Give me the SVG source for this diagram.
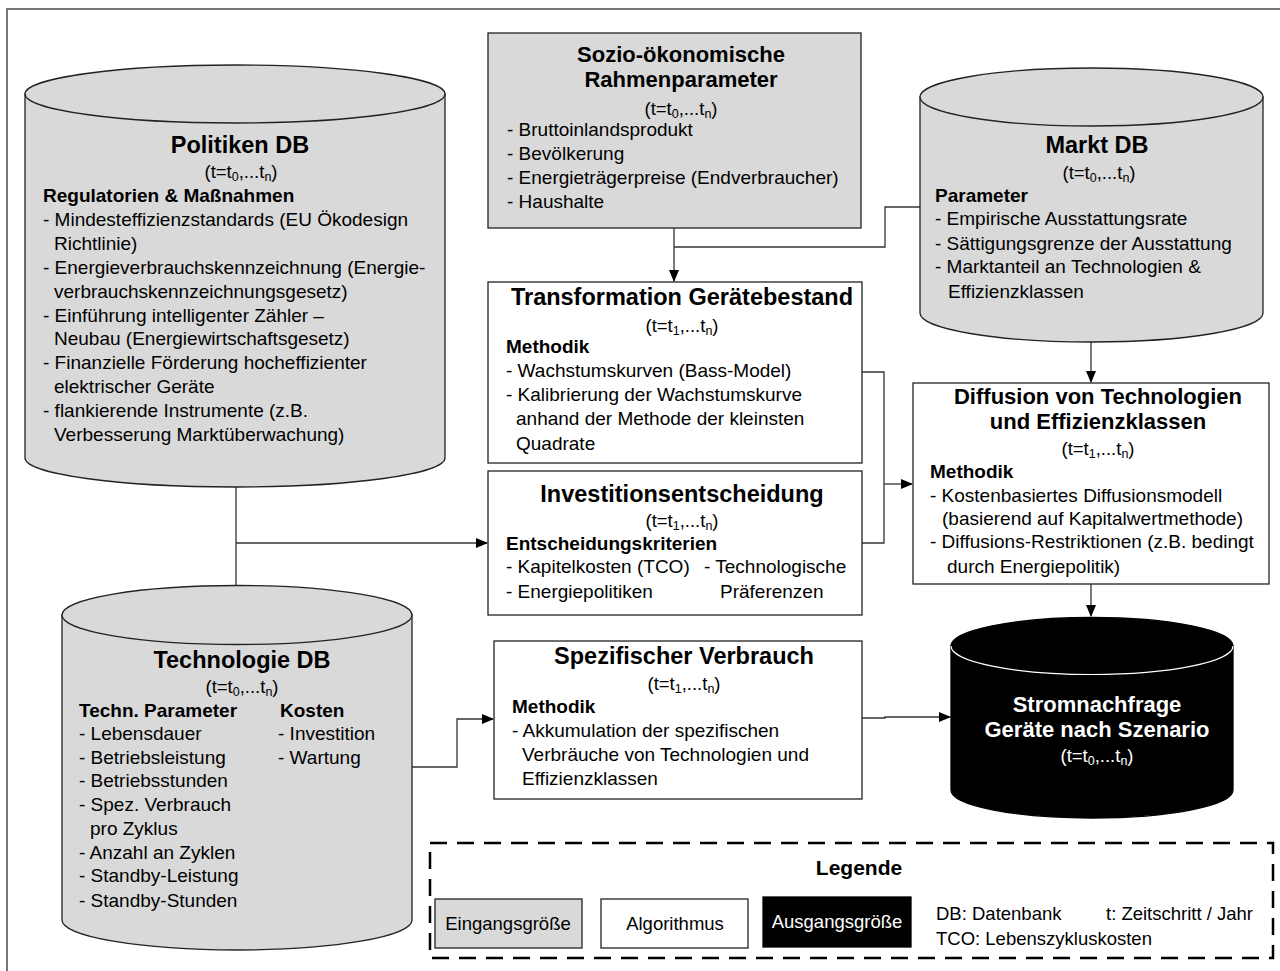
<svg xmlns="http://www.w3.org/2000/svg" width="1280" height="971" viewBox="0 0 1280 971">
<defs>
<style>
text{font-family:"Liberation Sans",Arial,sans-serif;fill:#000}
.ti{font-size:23.5px;font-weight:bold;text-anchor:middle}
.t2{font-size:22px}
.b{font-size:19px}
.sb{font-size:19px;font-weight:bold}
.tm{font-size:18.5px;text-anchor:middle}
.sub{font-size:12.5px}
.lg{font-size:18.5px}
.c{text-anchor:middle}
.w{fill:#fff}
.in{fill:#d9d9d9;stroke:#222;stroke-width:1.3}
.al{fill:#fff;stroke:#222;stroke-width:1.3}
.out{fill:#000;stroke:#000;stroke-width:1.3}
.con{fill:none;stroke:#333;stroke-width:1.3}
</style>
<marker id="ah" markerWidth="12" markerHeight="10" refX="11" refY="5" orient="auto" markerUnits="userSpaceOnUse">
<path d="M0,0 L12,5 L0,10 Z" fill="#000"/>
</marker>
</defs>
<rect width="1280" height="971" fill="#fff"/>
<path d="M7,971 V9 H1280" fill="none" stroke="#777" stroke-width="2"/>

<g id="connectors">
<path class="con" d="M674,228 V281" marker-end="url(#ah)"/>
<path class="con" d="M920,207 H885 V247 H674"/>
<path class="con" d="M1091,342 V382" marker-end="url(#ah)"/>
<path class="con" d="M862,372 H884 V543 H862"/>
<path class="con" d="M884,484 H912" marker-end="url(#ah)"/>
<path class="con" d="M1091,584 V616" marker-end="url(#ah)"/>
<path class="con" d="M236,487 V586"/>
<path class="con" d="M236,543 H487" marker-end="url(#ah)"/>
<path class="con" d="M412,767 H457 V719 H493" marker-end="url(#ah)"/>
<path class="con" d="M862,718 H885 V717 H950" marker-end="url(#ah)"/>
</g>

<g id="politiken-db">
<path class="in" d="M25,94 V458 A210,29 0 0 0 445,458 V94 Z"/>
<ellipse class="in" cx="235" cy="94" rx="210" ry="29"/>
<text class="ti" x="240" y="153">Politiken DB</text>
<text class="tm" x="241" y="178">(t=t<tspan class="sub" dy="3">0</tspan><tspan dy="-3">,...t</tspan><tspan class="sub" dy="3">n</tspan><tspan dy="-3">)</tspan></text>
<text class="sb" x="43" y="202">Regulatorien &amp; Maßnahmen</text>
<text class="b" x="43" y="226">- Mindesteffizienzstandards (EU Ökodesign</text>
<text class="b" x="54" y="250">Richtlinie)</text>
<text class="b" x="43" y="274">- Energieverbrauchskennzeichnung (Energie-</text>
<text class="b" x="54" y="298">verbrauchskennzeichnungsgesetz)</text>
<text class="b" x="43" y="322">- Einführung intelligenter Zähler –</text>
<text class="b" x="54" y="345">Neubau (Energiewirtschaftsgesetz)</text>
<text class="b" x="43" y="369">- Finanzielle Förderung hocheffizienter</text>
<text class="b" x="54" y="393">elektrischer Geräte</text>
<text class="b" x="43" y="417">- flankierende Instrumente (z.B.</text>
<text class="b" x="54" y="441">Verbesserung Marktüberwachung)</text>
</g>

<g id="sozio">
<rect class="in" x="488" y="33" width="373" height="195"/>
<text class="ti t2" x="681" y="62">Sozio-ökonomische</text>
<text class="ti t2" x="681" y="87">Rahmenparameter</text>
<text class="tm" x="681" y="115">(t=t<tspan class="sub" dy="3">0</tspan><tspan dy="-3">,...t</tspan><tspan class="sub" dy="3">n</tspan><tspan dy="-3">)</tspan></text>
<text class="b" x="507" y="136">- Bruttoinlandsprodukt</text>
<text class="b" x="507" y="160">- Bevölkerung</text>
<text class="b" x="507" y="184">- Energieträgerpreise (Endverbraucher)</text>
<text class="b" x="507" y="208">- Haushalte</text>
</g>

<g id="markt-db">
<path class="in" d="M920,97 V313 A171.5,29 0 0 0 1263,313 V97 Z"/>
<ellipse class="in" cx="1091.5" cy="97" rx="171.5" ry="29"/>
<text class="ti" x="1097" y="153">Markt DB</text>
<text class="tm" x="1099" y="179">(t=t<tspan class="sub" dy="3">0</tspan><tspan dy="-3">,...t</tspan><tspan class="sub" dy="3">n</tspan><tspan dy="-3">)</tspan></text>
<text class="sb" x="935" y="202">Parameter</text>
<text class="b" x="935" y="225">- Empirische Ausstattungsrate</text>
<text class="b" x="935" y="250">- Sättigungsgrenze der Ausstattung</text>
<text class="b" x="935" y="273">- Marktanteil an Technologien &amp;</text>
<text class="b" x="948" y="298">Effizienzklassen</text>
</g>

<g id="transformation">
<rect class="al" x="488" y="282" width="374" height="181"/>
<text class="ti" x="682" y="305">Transformation Gerätebestand</text>
<text class="tm" x="682" y="332">(t=t<tspan class="sub" dy="3">1</tspan><tspan dy="-3">,...t</tspan><tspan class="sub" dy="3">n</tspan><tspan dy="-3">)</tspan></text>
<text class="sb" x="506" y="353">Methodik</text>
<text class="b" x="506" y="377">- Wachstumskurven (Bass-Model)</text>
<text class="b" x="506" y="401">- Kalibrierung der Wachstumskurve</text>
<text class="b" x="516" y="425">anhand der Methode der kleinsten</text>
<text class="b" x="516" y="450">Quadrate</text>
</g>

<g id="investition">
<rect class="al" x="488" y="471" width="374" height="144"/>
<text class="ti" x="682" y="502">Investitionsentscheidung</text>
<text class="tm" x="682" y="527">(t=t<tspan class="sub" dy="3">1</tspan><tspan dy="-3">,...t</tspan><tspan class="sub" dy="3">n</tspan><tspan dy="-3">)</tspan></text>
<text class="sb" x="506" y="550">Entscheidungskriterien</text>
<text class="b" x="506" y="573">- Kapitelkosten (TCO)</text>
<text class="b" x="704" y="573">- Technologische</text>
<text class="b" x="506" y="598">- Energiepolitiken</text>
<text class="b" x="720" y="598">Präferenzen</text>
</g>

<g id="diffusion">
<rect class="al" x="913" y="383" width="356" height="201"/>
<text class="ti t2" x="1098" y="404">Diffusion von Technologien</text>
<text class="ti t2" x="1098" y="429">und Effizienzklassen</text>
<text class="tm" x="1098" y="455">(t=t<tspan class="sub" dy="3">1</tspan><tspan dy="-3">,...t</tspan><tspan class="sub" dy="3">n</tspan><tspan dy="-3">)</tspan></text>
<text class="sb" x="930" y="478">Methodik</text>
<text class="b" x="930" y="502">- Kostenbasiertes Diffusionsmodell</text>
<text class="b" x="942" y="525">(basierend auf Kapitalwertmethode)</text>
<text class="b" x="930" y="548">- Diffusions-Restriktionen (z.B. bedingt</text>
<text class="b" x="947" y="573">durch Energiepolitik)</text>
</g>

<g id="technologie-db">
<path class="in" d="M62,615 V920 A175,30 0 0 0 412,920 V615 Z"/>
<ellipse class="in" cx="237" cy="615" rx="175" ry="29.5"/>
<text class="ti" x="242" y="668">Technologie DB</text>
<text class="tm" x="242" y="693">(t=t<tspan class="sub" dy="3">0</tspan><tspan dy="-3">,...t</tspan><tspan class="sub" dy="3">n</tspan><tspan dy="-3">)</tspan></text>
<text class="sb" x="79" y="717">Techn. Parameter</text>
<text class="sb" x="280" y="717">Kosten</text>
<text class="b" x="79" y="740">- Lebensdauer</text>
<text class="b" x="79" y="764">- Betriebsleistung</text>
<text class="b" x="79" y="787">- Betriebsstunden</text>
<text class="b" x="79" y="811">- Spez. Verbrauch</text>
<text class="b" x="90" y="835">pro Zyklus</text>
<text class="b" x="79" y="859">- Anzahl an Zyklen</text>
<text class="b" x="79" y="882">- Standby-Leistung</text>
<text class="b" x="79" y="907">- Standby-Stunden</text>
<text class="b" x="278" y="740">- Investition</text>
<text class="b" x="278" y="764">- Wartung</text>
</g>

<g id="spezifischer-verbrauch">
<rect class="al" x="494" y="641" width="368" height="158"/>
<text class="ti" x="684" y="664">Spezifischer Verbrauch</text>
<text class="tm" x="684" y="690">(t=t<tspan class="sub" dy="3">1</tspan><tspan dy="-3">,...t</tspan><tspan class="sub" dy="3">n</tspan><tspan dy="-3">)</tspan></text>
<text class="sb" x="512" y="713">Methodik</text>
<text class="b" x="512" y="737">- Akkumulation der spezifischen</text>
<text class="b" x="522" y="761">Verbräuche von Technologien und</text>
<text class="b" x="522" y="785">Effizienzklassen</text>
</g>

<g id="stromnachfrage">
<path class="out" d="M951,646 V790 A141,28 0 0 0 1233,790 V646 Z"/>
<ellipse class="out" cx="1092" cy="646" rx="141" ry="28.5"/>
<path d="M951,646 A141,28.5 0 0 0 1233,646" fill="none" stroke="#fff" stroke-width="1.2"/>
<text class="ti t2 w" x="1097" y="712">Stromnachfrage</text>
<text class="ti t2 w" x="1097" y="737">Geräte nach Szenario</text>
<text class="tm w" x="1097" y="762">(t=t<tspan class="sub" dy="3">0</tspan><tspan dy="-3">,...t</tspan><tspan class="sub" dy="3">n</tspan><tspan dy="-3">)</tspan></text>
</g>

<g id="legende">
<rect x="430" y="843" width="843" height="115" fill="none" stroke="#000" stroke-width="2.5" stroke-dasharray="17,10"/>
<text x="859" y="875" class="c" style="font-size:21px;font-weight:bold">Legende</text>
<rect class="in" x="435" y="899" width="147" height="49"/>
<text class="lg c" x="508" y="930">Eingangsgröße</text>
<rect class="al" x="601" y="899" width="147" height="49"/>
<text class="lg c" x="675" y="930">Algorithmus</text>
<rect class="out" x="763" y="897" width="148" height="50"/>
<text class="lg c w" x="837" y="928">Ausgangsgröße</text>
<text class="lg" x="936" y="920">DB: Datenbank</text>
<text class="lg" x="1106" y="920">t: Zeitschritt / Jahr</text>
<text class="lg" x="936" y="945">TCO: Lebenszykluskosten</text>
</g>
</svg>
